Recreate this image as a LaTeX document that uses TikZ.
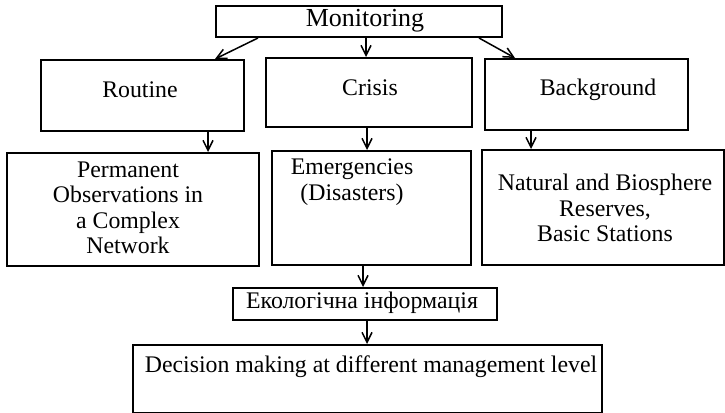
\documentclass[tikz,border=0pt]{standalone}
\usepackage{fontspec}
\setmainfont{Liberation Serif}
\usetikzlibrary{arrows.meta,calc}
\begin{document}
\begin{tikzpicture}[x=1pt,y=-1pt,
  box/.style={draw, line width=2pt, inner sep=0pt, anchor=north west},
  txt/.style={font=\fontsize{23.8}{25.5}\selectfont, inner sep=0pt, align=center},
  arr/.style={line width=1.5pt, -{Straight Barb[length=10pt,width=10pt,line width=1.5pt]}}]
\useasboundingbox (0,0) rectangle (725,412);

% boxes
\node[box, minimum width=286pt, minimum height=31pt]  (mon)  at (215,5)   {};
\node[box, minimum width=203pt, minimum height=71pt]  (rout) at (40,59)   {};
\node[box, minimum width=206pt, minimum height=69pt]  (cris) at (265,57)  {};
\node[box, minimum width=203pt, minimum height=71pt]  (back) at (484,58)  {};
\node[box, minimum width=252pt, minimum height=113pt] (perm) at (6,152)   {};
\node[box, minimum width=199pt, minimum height=114pt] (emer) at (271,150) {};
\node[box, minimum width=242pt, minimum height=115pt] (natu) at (481,149) {};
\node[box, minimum width=264pt, minimum height=32pt]  (eco)  at (232,287) {};
\node[box, minimum width=469pt, minimum height=68pt]  (deci) at (132,344) {};

% labels
\node[txt, font=\fontsize{26}{28}\selectfont] (tmon) at (365,21) {Monitoring};
\node[txt] (trout) at (140,90) {Routine};
\node[txt] (tcris) at (370,88) {Crisis};
\node[txt] (tback) at (598,90) {Background};
\node[txt] (tperm) at (128,208) {Permanent\\Observations in\\a Complex\\Network};
\node[txt] (temer) at (352,182) {Emergencies\\(Disasters)};
\node[txt] (tnatu) at (605,208) {Natural and Biosphere\\Reserves,\\Basic Stations};
\node[txt] (teco)  at (362,303) {Екологічна інформація};
\node[txt] (tdeci) at (371,367) {Decision making at different management level};

% connectors
\draw[arr] ([xshift=43pt]mon.south west) -- ([xshift=175pt]rout.north west);
\coordinate (p1) at ([xshift=7pt]mon.south);
\draw[arr] (p1) -- (p1 |- cris.north);
\draw[arr] ([xshift=-24pt]mon.south east) -- ([xshift=31pt]back.north west);
\coordinate (p2) at ([xshift=65.5pt]rout.south);
\draw[arr] (p2) -- (p2 |- perm.north);
\coordinate (p3) at ([xshift=-2pt]cris.south);
\draw[arr] (p3) -- (p3 |- emer.north);
\coordinate (p4) at ([xshift=-55.5pt]back.south);
\draw[arr] (p4) -- (p4 |- natu.north);
\coordinate (p5) at ([xshift=-8.5pt]emer.south);
\draw[arr] (p5) -- (p5 |- eco.north);
\coordinate (p6) at ([xshift=2pt]eco.south);
\draw[arr] (p6) -- (p6 |- deci.north);
\end{tikzpicture}
\end{document}
